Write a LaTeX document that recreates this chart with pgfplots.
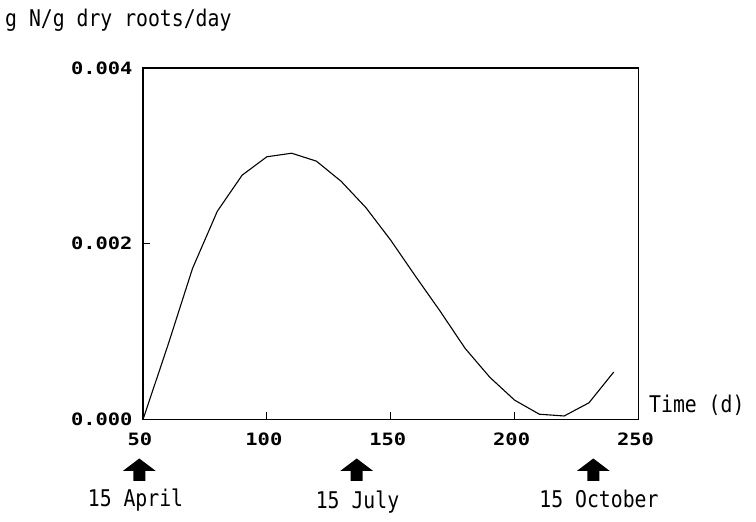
\documentclass[border=0pt]{standalone}
\usepackage{pgfplots}
\pgfplotsset{compat=1.18}
\usepackage{fontspec}
\setmainfont{DejaVu Sans Mono}
\newfontfamily\tickfont[FakeStretch=1.2]{DejaVu Sans Mono}
\newfontfamily\labelfont[FakeStretch=0.86]{DejaVu Sans Mono}

\begin{document}
\begin{tikzpicture}
% page frame in px (1pt = 1px), axis box lower-left at the origin
\path[use as bounding box] (-143pt,-102.5pt) rectangle (613pt,419.5pt);
\begin{axis}[
  width=495.5pt, height=351.5pt, scale only axis,
  xmin=50, xmax=250, ymin=0, ymax=0.004,
  xtick={50,100,150,200,250}, ytick={0,0.002,0.004},
  xtick pos=bottom, ytick pos=left, tick align=inside,
  major tick length=7pt,
  axis line style={line width=1.2pt},
  tick style={line width=1pt, black},
  scaled y ticks=false,
  yticklabel style={/pgf/number format/fixed, /pgf/number format/fixed zerofill,
    /pgf/number format/precision=3, xshift=-7pt},
  /pgf/number format/assume math mode=true,
  tick label style={font=\tickfont\fontsize{17}{20}\selectfont\bfseries},
  xticklabel style={xshift=-3pt, yshift=-10pt},
]
\addplot[black, line width=1.1pt] coordinates {
  (50,0) (60,0.00084) (70,0.00172) (80,0.00237) (90,0.00278)
  (100,0.00299) (110,0.00303) (120,0.00294) (130,0.00271) (140,0.00241)
  (150,0.00204) (160,0.00163) (170,0.00123) (180,0.00081) (190,0.00048)
  (200,0.00022) (210,0.00006) (220,0.00004) (230,0.00019) (240,0.00054)
};
\end{axis}
\begin{scope}[font=\labelfont\fontsize{23}{27}\selectfont]
\node[anchor=base west, inner sep=0pt] at (-138pt,392.8pt) {g N/g dry roots/day};
\node[anchor=base west, inner sep=0pt] at (506pt,6.5pt) {Time (d)};
\foreach \x in {-3.7,213.7,450.3}
  \fill[black] (\x pt,-39pt) -- (\x pt+16.5pt,-51.5pt) -- (\x pt+6pt,-51.5pt)
    -- (\x pt+6pt,-61.5pt) -- (\x pt-6pt,-61.5pt) -- (\x pt-6pt,-51.5pt)
    -- (\x pt-16.5pt,-51.5pt) -- cycle;
\node[anchor=base, inner sep=0pt] at (-7.5pt,-87.5pt) {15 April};
\node[anchor=base, inner sep=0pt] at (214.5pt,-89pt) {15 July};
\node[anchor=base, inner sep=0pt] at (456pt,-88.5pt) {15 October};
\end{scope}
\end{tikzpicture}
\end{document}
